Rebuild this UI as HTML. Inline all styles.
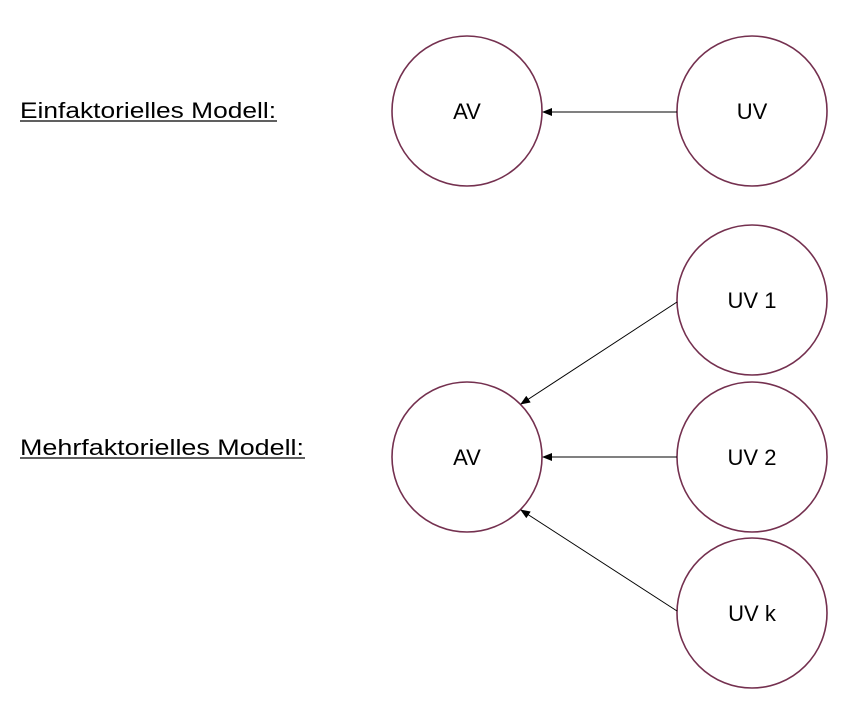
<!DOCTYPE html>
<html><head><meta charset="utf-8"><style>body{margin:0;background:#fff}</style></head><body>
<svg width="846" height="700" xmlns="http://www.w3.org/2000/svg" font-family="Liberation Sans, sans-serif">
<defs><marker id="a" markerWidth="10" markerHeight="8" refX="9" refY="4" orient="auto" markerUnits="userSpaceOnUse"><path d="M0,0 L10,4 L0,8z" fill="#000"/></marker></defs>
<g fill="none" stroke="#74304f" stroke-width="1.6">
<circle cx="467" cy="111" r="75"/>
<circle cx="752" cy="111" r="75"/>
<circle cx="752" cy="300" r="75"/>
<circle cx="467" cy="457" r="75"/>
<circle cx="752" cy="457" r="75"/>
<circle cx="752" cy="613" r="75"/>
</g>
<g stroke="#000" stroke-width="1">
<line x1="677" y1="112" x2="543" y2="112" marker-end="url(#a)"/>
<line x1="677" y1="457" x2="543" y2="457" marker-end="url(#a)"/>
<line x1="677" y1="302" x2="521" y2="404" marker-end="url(#a)"/>
<line x1="677" y1="611" x2="521" y2="510" marker-end="url(#a)"/>
</g>
<g font-size="22" text-anchor="middle" fill="#000">
<text x="467" y="119">AV</text>
<text x="752" y="119">UV</text>
<text x="752" y="308">UV 1</text>
<text x="467" y="465">AV</text>
<text x="752" y="465">UV 2</text>
<text x="752" y="621">UV k</text>
</g>
<g font-size="22" fill="#000">
<text x="20" y="118" textLength="256" lengthAdjust="spacingAndGlyphs">Einfaktorielles Modell:</text>
<text x="20" y="455" textLength="284" lengthAdjust="spacingAndGlyphs">Mehrfaktorielles Modell:</text>
</g>
<line x1="20" y1="121" x2="277" y2="121" stroke="#000" stroke-width="1.2"/>
<line x1="20" y1="458" x2="305" y2="458" stroke="#000" stroke-width="1.2"/>
</svg>
</body></html>
